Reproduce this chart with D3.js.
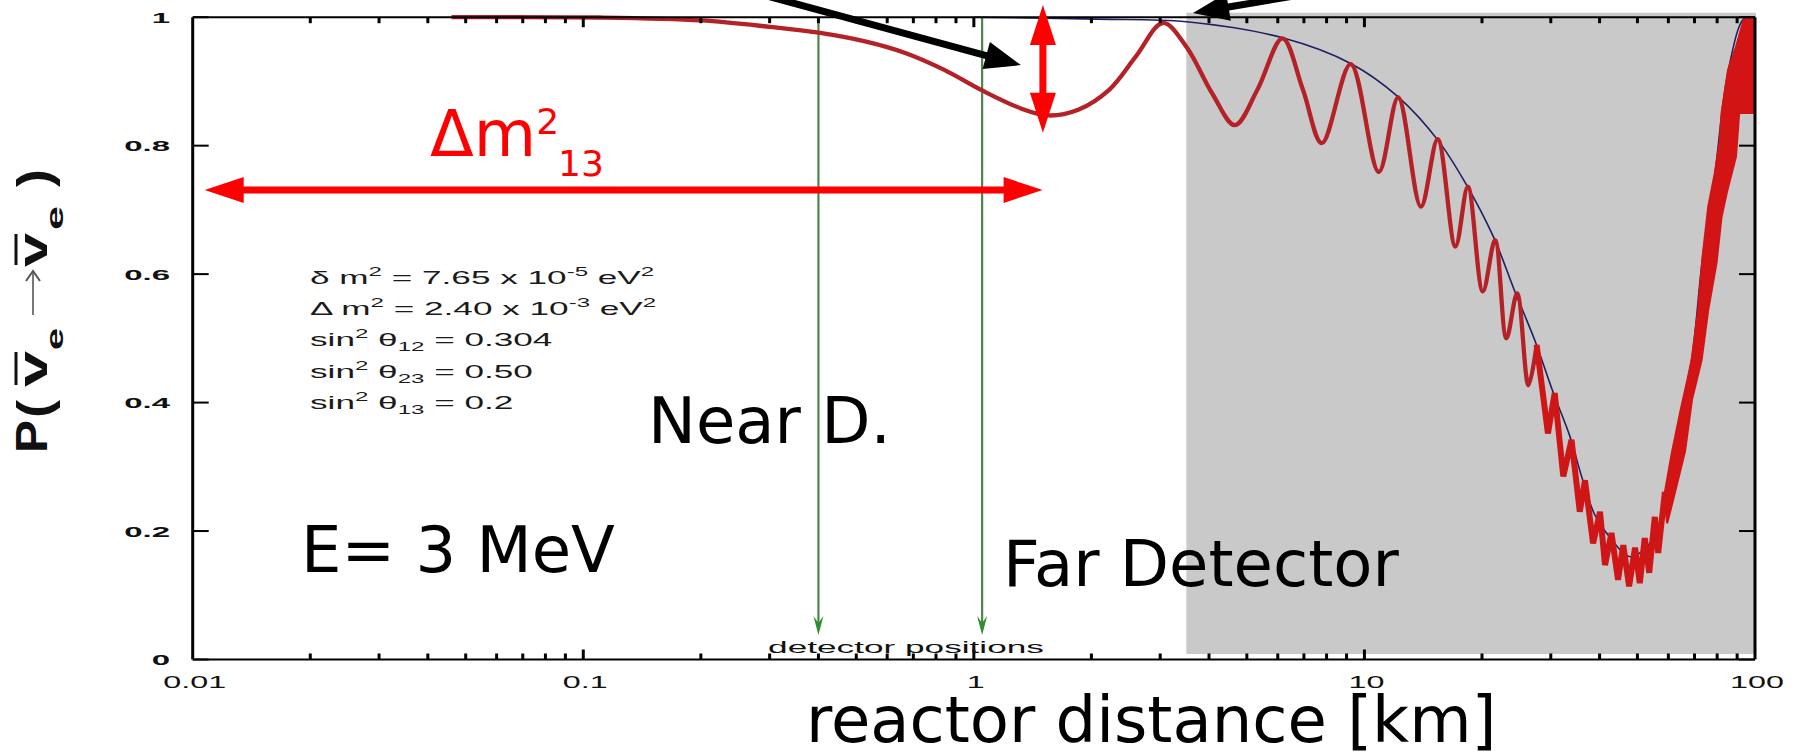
<!DOCTYPE html>
<html>
<head>
<meta charset="utf-8">
<script src="https://cdn.jsdelivr.net/npm/d3@7"></script>
<style>
  html, body { margin: 0; padding: 0; background: #fff; }
  svg { display: block; }
</style>
</head>
<body>
<svg id="chart" width="1799" height="752"></svg>
<script>
// ---------- data ----------
const distanceTicks = [0.01, 0.1, 1, 10, 100];
const distanceTickLabels = ["0.01", "0.1", "1", "10", "100"];
const probTicks = [0, 0.2, 0.4, 0.6, 0.8, 1];
const probTickLabels = ["0", "0.2", "0.4", "0.6", "0.8", "1"];

// electron antineutrino survival probability, resolved oscillations (km, P)
const survivalL = [0.046, 0.11, 0.2, 0.3, 0.4, 0.53, 0.67, 0.84, 1.05, 1.32, 1.55, 1.85, 2.22, 2.6, 3.05,
  3.5, 4.07, 4.66, 5.32, 6.17, 6.96, 7.78, 9.22, 10.88, 12.2, 13.95, 15.4, 17.1, 18.4, 20.1, 21.6,
  23.1, 24.6, 26.3, 27.6];
const survivalP = [1.0, 0.9995, 0.995, 0.985, 0.976, 0.962, 0.944, 0.918, 0.886, 0.858, 0.847, 0.856, 0.887, 0.939, 0.991,
  0.954, 0.882, 0.832, 0.887, 0.967, 0.887, 0.804, 0.927, 0.759, 0.875, 0.705, 0.81, 0.643, 0.736, 0.573, 0.653,
  0.5, 0.57, 0.427, 0.49];

// fast oscillations near the solar minimum
const fastL = [27.6, 29.5, 30.7, 32.3, 33.9, 35.6, 36.7, 38.5, 40.1, 41.3, 42.9, 44.6, 46.0, 47.6, 49.3,
  50.7, 52.2, 53.6, 55.4, 56.5, 58.8];
const fastP = [0.49, 0.352, 0.415, 0.285, 0.342, 0.23, 0.279, 0.181, 0.23, 0.147, 0.197, 0.124, 0.178, 0.114, 0.174,
  0.119, 0.189, 0.135, 0.222, 0.166, 0.261];

// unresolved oscillation band on the rising edge
const bandTopL = [58.8, 61.2, 64.5, 67.1, 68.8, 71.5, 73.4, 75.9, 78.9, 81.3, 82.1, 85.3, 89.4, 93.8, 99.5];
const bandTopP = [0.261, 0.321, 0.388, 0.435, 0.466, 0.544, 0.627, 0.705, 0.757, 0.809, 0.851, 0.918, 0.954, 0.998, 1.0];
const bandBottomL = [99.5, 91.1, 89.4, 84.6, 82.1, 79.7, 75.9, 73.0, 69.0, 66.2, 62.6, 59.6, 58.8];
const bandBottomP = [0.851, 0.851, 0.783, 0.726, 0.689, 0.617, 0.544, 0.466, 0.405, 0.324, 0.264, 0.212, 0.24];

// solar-only envelope
const envelopeL = [1.0, 2.07, 3.5, 6.17, 9.22, 12.2, 15.4, 18.05, 21.4, 24.2, 27.3, 30.5, 33.6, 36.1, 38.9,
  42.4, 48, 54.7, 57.8, 61.2, 64.5, 68.8, 73.4, 78.9, 85.3, 93.8, 99.5];
const envelopeP = [1.0, 0.997, 0.993, 0.968, 0.928, 0.876, 0.809, 0.744, 0.658, 0.575, 0.497, 0.414, 0.347, 0.282, 0.225,
  0.191, 0.16, 0.186, 0.222, 0.315, 0.385, 0.466, 0.625, 0.755, 0.915, 0.998, 1.0];

const detectorL = [0.4, 1.05];
const farRange = [3.5, 100];

const paramLines = [
  [["δ m", 0], ["2", 1], [" = 7.65 x 10", 0], ["-5", 1], [" eV", 0], ["2", 1]],
  [["Δ m", 0], ["2", 1], [" = 2.40 x 10", 0], ["-3", 1], [" eV", 0], ["2", 1]],
  [["sin", 0], ["2", 1], [" θ", 0], ["12", -1], [" = 0.304", 0]],
  [["sin", 0], ["2", 1], [" θ", 0], ["23", -1], [" = 0.50", 0]],
  [["sin", 0], ["2", 1], [" θ", 0], ["13", -1], [" = 0.2", 0]]
];

// ---------- scales ----------
const svg = d3.select("#chart");
const x = d3.scaleLog().domain([0.01, 100]).range([192.7, 1755]);
const y = d3.scaleLinear().domain([0, 1]).range([659.5, 17.2]);
const zip = (a, b) => a.map((v, i) => [v, b[i]]);

// far-detector shading
svg.append("rect")
  .attr("x", x(farRange[0])).attr("y", y(1) - 4.5)
  .attr("width", x(farRange[1]) - x(farRange[0]) + 1)
  .attr("height", y(0) - 5.5 - (y(1) - 4.5))
  .attr("fill", "#c9c9c9");

// detector position markers
const gDet = svg.append("g");
detectorL.forEach(d => {
  const xd = x(d), tip = 635;
  gDet.append("line").attr("x1", xd).attr("x2", xd).attr("y1", y(1)).attr("y2", tip - 6)
    .attr("stroke", "#4a874a").attr("stroke-width", 2.2);
  gDet.append("path")
    .attr("d", `M${xd},${tip}L${xd - 5},${tip - 19}L${xd},${tip - 12}L${xd + 5},${tip - 19}Z`)
    .attr("fill", "#2f8f2f");
});

// envelope
svg.append("path").datum(zip(envelopeL, envelopeP))
  .attr("d", d3.line().x(d => x(d[0])).y(d => y(d[1])).curve(d3.curveCatmullRom.alpha(0.5)))
  .attr("fill", "none").attr("stroke", "#1e1e62").attr("stroke-width", 1.6);

// resolved oscillations
svg.append("path").datum(zip(survivalL, survivalP))
  .attr("d", d3.line().x(d => x(d[0])).y(d => y(d[1])).curve(d3.curveCatmullRom.alpha(0.5)))
  .attr("fill", "none").attr("stroke", "#b42126").attr("stroke-width", 4.3)
  .attr("stroke-linejoin", "round");

// fast oscillations
svg.append("path").datum(zip(fastL, fastP))
  .attr("d", d3.line().x(d => x(d[0])).y(d => y(d[1])))
  .attr("fill", "none").attr("stroke", "#cf1616").attr("stroke-width", 6)
  .attr("stroke-linejoin", "miter");

// band
svg.append("path").datum(zip(bandTopL, bandTopP).concat(zip(bandBottomL, bandBottomP)))
  .attr("d", d => d3.line().x(p => x(p[0])).y(p => y(p[1]))(d) + "Z")
  .attr("fill", "#d21414").attr("stroke", "#d21414").attr("stroke-width", 2);

// ---------- axes ----------
const gAx = svg.append("g").attr("stroke", "#000");
const x0 = x.range()[0], x1 = x.range()[1], yb = y(0), yt = y(1);
gAx.append("line").attr("x1", x0).attr("x2", x1).attr("y1", yb).attr("y2", yb).attr("stroke-width", 2);
gAx.append("line").attr("x1", x0).attr("x2", x1).attr("y1", yt).attr("y2", yt).attr("stroke-width", 2);
gAx.append("line").attr("x1", x0).attr("x2", x0).attr("y1", yt).attr("y2", yb).attr("stroke-width", 3);
gAx.append("line").attr("x1", x1).attr("x2", x1).attr("y1", yt).attr("y2", yb).attr("stroke-width", 3);

const allTicks = x.ticks();
allTicks.forEach(t => {
  const major = Math.abs(Math.log10(t) - Math.round(Math.log10(t))) < 1e-9;
  const len = major ? 10 : 6;
  const xt = x(t);
  if (xt <= x0 + 1 || xt >= x1 - 1) return;
  gAx.append("line").attr("x1", xt).attr("x2", xt).attr("y1", yb).attr("y2", yb - len).attr("stroke-width", 3);
  gAx.append("line").attr("x1", xt).attr("x2", xt).attr("y1", yt).attr("y2", yt + len).attr("stroke-width", 3);
});
probTicks.forEach(t => {
  const yy = y(t);
  gAx.append("line").attr("x1", x0).attr("x2", x0 + 16).attr("y1", yy).attr("y2", yy).attr("stroke-width", 2);
  gAx.append("line").attr("x1", x1).attr("x2", x1 - 16).attr("y1", yy).attr("y2", yy).attr("stroke-width", 2);
});

// tick labels (wide plot lettering)
distanceTicks.forEach((t, i) => {
  svg.append("text")
    .attr("transform", `translate(${x(t) + 2},${688}) scale(1.9,1)`)
    .attr("text-anchor", "middle")
    .attr("font-family", "Liberation Sans, Arial, sans-serif")
    .attr("font-size", 17).attr("fill", "#111")
    .text(distanceTickLabels[i]);
});
probTicks.forEach((t, i) => {
  svg.append("text")
    .attr("transform", `translate(170,${y(t) + 5.5}) scale(2.2,1)`)
    .attr("text-anchor", "end")
    .attr("font-family", "Liberation Sans, Arial, sans-serif")
    .attr("font-weight", "bold")
    .attr("font-size", 15).attr("fill", "#111")
    .text(probTickLabels[i]);
});

// y-axis title  P(ν̄e → ν̄e)
const gT = svg.append("g").attr("transform", "translate(47,455) rotate(-90)")
  .attr("font-family", "Liberation Sans, Arial, sans-serif").attr("font-weight", "bold").attr("fill", "#111");
const tpiece = (t, px, py, size, len) => gT.append("text").attr("x", px).attr("y", py)
  .attr("font-size", size).attr("textLength", len).attr("lengthAdjust", "spacingAndGlyphs").text(t);
tpiece("P", 2, 0, 44, 33);
tpiece("(", 37, 3, 46, 18);
tpiece("v", 68, 0, 40, 36);
tpiece("e", 105, 16, 24, 22);
tpiece("v", 188, 0, 40, 34);
tpiece("e", 225, 16, 24, 24);
tpiece(")", 268, 3, 46, 18);
[[70, 103], [190, 221]].forEach(([a, b]) => gT.append("line").attr("x1", a).attr("x2", b)
  .attr("y1", -31).attr("y2", -31).attr("stroke", "#111").attr("stroke-width", 3));
gT.append("line").attr("x1", 140).attr("x2", 183).attr("y1", -14).attr("y2", -14)
  .attr("stroke", "#555").attr("stroke-width", 1.6);
gT.append("path").attr("d", "M174,-21L184,-14L174,-7").attr("fill", "none")
  .attr("stroke", "#555").attr("stroke-width", 2);

// parameter block
const gP = svg.append("g").attr("font-family", "Liberation Sans, Arial, sans-serif").attr("fill", "#1a1a1a");
paramLines.forEach((segs, i) => {
  const t = gP.append("text")
    .attr("transform", `translate(310,${283.5 + i * 31.4}) scale(1.85,1)`)
    .attr("font-size", 19);
  let shift = 0;
  segs.forEach(([s, k]) => {
    const target = k === 1 ? -8 : (k === -1 ? 5 : 0);
    t.append("tspan").attr("dy", target - shift)
      .attr("font-size", k === 0 ? 19 : 13).text(s);
    shift = target;
  });
});

// detector caption
svg.append("text")
  .attr("transform", `translate(906,653) scale(2.2,1)`)
  .attr("text-anchor", "middle")
  .attr("font-family", "Liberation Sans, Arial, sans-serif")
  .attr("font-size", 16).attr("fill", "#111")
  .text("detector positions");

// ---------- annotations ----------
function arrowPath(p0, p1, shaft, headLen, headHalf, both) {
  const dx = p1[0] - p0[0], dy = p1[1] - p0[1], len = Math.hypot(dx, dy);
  const ux = dx / len, uy = dy / len, nx = -uy, ny = ux;
  const pt = (t, n) => [p0[0] + ux * t + nx * n, p0[1] + uy * t + ny * n];
  const s = shaft / 2, a = both ? headLen : 0, b = len - headLen;
  const pts = [];
  if (both) pts.push(pt(0, 0), pt(a, headHalf), pt(a, s)); else pts.push(pt(0, s));
  pts.push(pt(b, s), pt(b, headHalf), pt(len, 0), pt(b, -headHalf), pt(b, -s));
  if (both) pts.push(pt(a, -s), pt(a, -headHalf)); else pts.push(pt(0, -s));
  return "M" + pts.map(p => p[0].toFixed(1) + "," + p[1].toFixed(1)).join("L") + "Z";
}
const P = (l, p) => [x(l), y(p)];

// Δm²13 span
svg.append("path").attr("d", arrowPath(P(0.01073, 0.731), P(1.5, 0.731), 7, 39, 13, true)).attr("fill", "#ff0000");
svg.append("path").attr("d", arrowPath(P(1.502, 1.019), P(1.502, 0.82), 7, 40, 13, true)).attr("fill", "#ff0000");

// pointers
svg.append("path").attr("d", arrowPath(P(0.2836, 1.036), P(1.32, 0.9255), 7, 36, 14, false)).attr("fill", "#000");
svg.append("path").attr("d", arrowPath(P(6.84, 1.0346), P(3.64, 1.0065), 7, 36, 14, false)).attr("fill", "#000");

const big = (t, px, py) => svg.append("text").attr("x", px).attr("y", py)
  .attr("font-family", "DejaVu Sans, sans-serif").attr("font-size", 64).attr("fill", "#000").text(t);

const dm = svg.append("text").attr("x", 430).attr("y", 156)
  .attr("font-family", "DejaVu Sans, sans-serif").attr("font-size", 64).attr("fill", "#ff0000");
dm.append("tspan").text("Δm");
dm.append("tspan").attr("font-size", 36).attr("dy", -22).text("2");
dm.append("tspan").attr("font-size", 36).attr("dx", -1).attr("dy", 42).text("13");

big("Near D.", 648, 443);
big("E= 3 MeV", 301, 572);
big("Far Detector", 1003, 586);
big("reactor distance [km]", 806, 742);
</script>
</body>
</html>
